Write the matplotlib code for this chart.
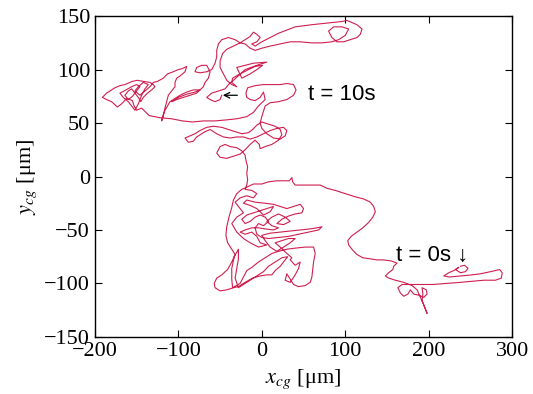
import numpy as np
import matplotlib
matplotlib.use('Agg')
import matplotlib.pyplot as plt

plt.rcParams['font.family'] = 'Liberation Serif'
plt.rcParams['mathtext.fontset'] = 'stix'

# trajectory of the centre of gravity (um), in time order
start_right = [
    (238, -84), (243, -83), (247, -86), (244, -89), (238, -90), (232, -87), (236, -85),
    (230, -88), (224, -90), (218, -93), (225, -94), (238, -93), (252, -92), (262, -91),
    (274, -89), (285, -87), (288, -90), (287, -95), (280, -97), (266, -97), (252, -98),
    (238, -99), (222, -100), (205, -101), (188, -101), (175, -101), (168, -101), (163, -104),
    (166, -109), (170, -112), (175, -110), (178, -106), (182, -110), (188, -111), (194, -113),
    (198, -110), (197, -106), (192, -104), (193, -110), (192, -116), (195, -122), (198, -128),
    (194, -120), (190, -113), (186, -106), (180, -102), (170, -99), (160, -97), (152, -95),
    (148, -93), (152, -90), (157, -87), (158, -84), (162, -81), (155, -79), (146, -78),
    (138, -78), (130, -77), (121, -76), (114, -73), (109, -69), (104, -64), (103, -60),
    (107, -56), (114, -52), (121, -48), (128, -43), (133, -38), (136, -33), (134, -28),
    (130, -24), (122, -21), (112, -19), (100, -16), (88, -13), (78, -11), (70, -8),
    (58, -8), (46, -8), (40, -8), (37, -5), (36, -1), (33, -4), (26, -4), (18, -4),
    (8, -5), (0, -7), (-10, -7), (-18, -10),
]
lower_cluster = [
    (-24, -12), (-30, -16), (-34, -22), (-36, -29), (-39, -37), (-42, -47), (-43, -55),
    (-41, -62), (-36, -68), (-32, -73), (-36, -80), (-41, -87), (-48, -92), (-54, -95),
    (-57, -100), (-56, -104), (-50, -107), (-42, -106), (-34, -104), (-28, -103), (-20, -99),
    (-11, -95), (-2, -93), (6, -92), (12, -92), (16, -88), (22, -84), (27, -79), (31, -75),
    (24, -76), (16, -80), (8, -84), (2, -89), (-6, -93), (-14, -97), (-22, -101), (-28, -104),
    (-32, -95), (-30, -86), (-28, -77), (-28, -68), (-33, -75), (-36, -86), (-36, -96),
    (-35, -104), (-26, -100), (-22, -94), (-18, -88), (-12, -85), (-4, -80), (4, -76),
    (12, -72), (20, -70), (30, -68), (40, -67), (52, -66), (62, -66), (64, -72), (62, -80),
    (61, -87), (60, -94), (58, -99), (52, -102), (44, -103), (38, -101), (34, -96), (30, -91),
    (28, -97), (34, -99), (40, -92), (44, -86), (46, -80), (40, -83), (34, -78), (36, -76),
    (30, -72), (22, -66), (16, -62), (24, -60), (32, -58), (40, -58), (34, -62), (26, -66),
    (18, -70), (10, -66), (4, -60), (0, -55), (10, -53), (22, -52), (34, -51), (46, -50),
    (58, -49), (66, -48), (72, -47), (68, -50), (56, -52), (44, -54), (32, -56), (20, -57),
    (8, -58), (0, -57), (-6, -54), (-8, -48), (-4, -44), (2, -46), (8, -42), (4, -38),
    (-2, -36), (-8, -38), (-14, -42), (-20, -44), (-24, -40), (-18, -36), (-10, -34),
    (-2, -32), (6, -30), (14, -28), (10, -33), (2, -36), (-6, -30), (-14, -27), (-22, -25),
    (-18, -22), (-8, -24), (4, -25), (14, -26), (22, -28), (30, -30), (38, -28), (46, -26),
    (50, -30), (48, -34), (40, -35), (32, -37), (24, -40), (18, -44), (26, -45), (34, -42),
    (28, -38), (20, -35), (12, -38), (6, -42), (12, -46), (20, -48), (14, -50), (4, -49),
    (-4, -48), (-12, -48), (-20, -50), (-26, -52), (-20, -54), (-12, -52), (-6, -56),
    (-2, -62), (6, -64), (-4, -66), (-14, -62), (-22, -58), (-30, -52), (-36, -44),
    (-30, -38), (-22, -34), (-28, -28), (-32, -24), (-26, -20), (-18, -18), (-10, -20),
    (-6, -16), (-12, -13), (-20, -12), (-18, -8), (-17, -3),
]
middle_loops = [
    (-18, 3), (-17, 9), (-19, 15), (-20, 20), (-24, 24), (-30, 27), (-38, 28), (-44, 30),
    (-50, 28), (-54, 22), (-50, 18), (-42, 17), (-34, 19), (-26, 21), (-20, 25), (-14, 30),
    (-8, 34), (-3, 30), (-2, 26), (4, 28), (12, 30), (20, 34), (24, 39), (22, 44), (16, 47),
    (8, 49), (0, 51), (-6, 48), (-11, 44), (-16, 41), (-24, 40), (-32, 42), (-40, 44),
    (-48, 46), (-58, 47), (-66, 46), (-74, 43), (-80, 40), (-86, 38), (-92, 36), (-88, 32),
    (-82, 33), (-78, 37), (-72, 40), (-68, 42), (-62, 44), (-54, 40), (-46, 37), (-38, 36),
    (-30, 37), (-22, 37), (-14, 35), (-6, 37), (2, 40), (10, 43), (18, 45), (26, 46),
    (30, 43), (28, 38), (22, 35), (14, 36), (6, 40), (0, 45), (-2, 50), (0, 56), (2, 61),
    (4, 66), (10, 69), (20, 70), (30, 72), (38, 76), (41, 81), (38, 86), (30, 87), (22, 86),
    (12, 86), (2, 86), (-8, 85), (-17, 83), (-19, 78), (-18, 74), (-14, 72), (-8, 71),
    (-2, 74), (2, 79), (4, 72), (-4, 66), (-10, 60), (-18, 56), (-30, 54), (-42, 53),
    (-56, 52), (-70, 52), (-83, 51), (-95, 52), (-108, 54), (-122, 55), (-135, 57), (-144, 64),
]
left_cluster = [
    (-150, 62), (-153, 66), (-155, 71), (-162, 73), (-168, 68), (-173, 65), (-180, 70),
    (-186, 72), (-191, 74), (-186, 78), (-180, 81), (-176, 83), (-170, 85), (-164, 86),
    (-161, 87), (-155, 89), (-149, 90), (-142, 89), (-134, 88), (-130, 86), (-128, 84),
    (-132, 81), (-137, 78), (-142, 74), (-145, 70), (-148, 74), (-152, 78), (-156, 82),
    (-160, 80), (-164, 76), (-160, 72), (-155, 75), (-150, 80), (-146, 84), (-150, 86),
    (-156, 84), (-165, 80), (-170, 78), (-166, 74), (-160, 70), (-156, 66), (-152, 62),
    (-148, 68), (-144, 76), (-140, 82), (-136, 86), (-142, 88), (-148, 84), (-152, 80),
    (-146, 76), (-140, 80), (-134, 84), (-130, 88), (-125, 89), (-118, 92), (-113, 96),
    (-106, 98), (-100, 100), (-95, 101), (-90, 103), (-92, 98), (-98, 94), (-102, 92),
    (-104, 88), (-104, 84), (-108, 80), (-112, 76), (-114, 70), (-120, 52), (-116, 62),
    (-110, 70), (-104, 73), (-98, 76), (-90, 79), (-82, 81), (-74, 81), (-78, 78), (-86, 76),
    (-94, 74), (-102, 72), (-108, 70), (-100, 74), (-90, 77), (-80, 79), (-74, 81),
]
top_region = [
    (-70, 84), (-68, 88), (-64, 92), (-62, 98), (-66, 104), (-72, 104), (-78, 102),
    (-80, 98), (-74, 97), (-66, 98), (-60, 100), (-56, 106), (-54, 112), (-54, 118),
    (-52, 124), (-48, 128), (-40, 130), (-32, 128), (-26, 125), (-20, 128), (-14, 131),
    (-10, 135), (-6, 133), (-2, 130), (-6, 126), (-12, 124), (-8, 122), (0, 126), (10, 130),
    (20, 134), (30, 137), (40, 140), (50, 141), (60, 142), (72, 143), (84, 144), (96, 145),
    (102, 146), (108, 144), (114, 142), (120, 138), (118, 133), (114, 130), (106, 128),
    (98, 126), (90, 126), (84, 130), (80, 136), (86, 140), (96, 140), (104, 138), (100, 132),
    (92, 128), (84, 126), (72, 125), (60, 125), (46, 126), (34, 126), (22, 124), (10, 122),
    (0, 120), (-8, 118), (-14, 120), (-20, 124), (-26, 125), (-34, 122), (-42, 119),
    (-47, 115), (-50, 108), (-50, 102), (-46, 96), (-42, 90), (-36, 86), (-30, 84),
    (-36, 88), (-35, 92), (-26, 96), (-16, 100), (-8, 103), (1, 104), (-6, 100), (-14, 96),
    (-24, 92), (-30, 102), (-20, 104), (-10, 106), (6, 107), (-6, 104), (-20, 100),
    (-34, 90), (-40, 86), (-44, 82), (-52, 80), (-60, 78), (-66, 74), (-62, 72), (-56, 70),
    (-50, 72), (-48, 76),
]

segments = [start_right, lower_cluster, middle_loops, left_cluster, top_region]
path = np.array([p for seg in segments for p in seg], dtype=float)
x_cg = path[:, 0]
y_cg = path[:, 1]

fig = plt.figure(figsize=(5.33, 3.94), dpi=100)
ax = fig.add_axes([0.178, 0.145, 0.783, 0.814])

ax.plot(x_cg, y_cg, color='#cf1f4f', linewidth=0.8)

ax.set_xlim(-200, 300)
ax.set_ylim(-150, 150)
ax.set_xticks([-200, -100, 0, 100, 200, 300])
ax.set_yticks([-150, -100, -50, 0, 50, 100, 150])
ax.tick_params(direction='in', top=True, right=True, labelsize=16, length=5, width=0.8)
for spine in ax.spines.values():
    spine.set_linewidth(1.0)

ax.set_xlabel(r'$x_{cg}$ [μm]', fontsize=16, labelpad=5)
ax.set_ylabel(r'$y_{cg}$ [μm]', fontsize=16, labelpad=4)

# time markers
ax.annotate('', xy=(-50, 76), xytext=(-26, 76),
            arrowprops=dict(arrowstyle='->', lw=0.9, color='black'))
ax.text(55, 77, 't = 10s', fontsize=16, family=['Liberation Sans', 'DejaVu Sans'],
        va='center', ha='left')
ax.text(161, -74, 't = 0s \u2193', fontsize=16, family=['Liberation Sans', 'DejaVu Sans'],
        va='center', ha='left')

fig.savefig('out.png', dpi=100, facecolor='white')
plt.close(fig)
